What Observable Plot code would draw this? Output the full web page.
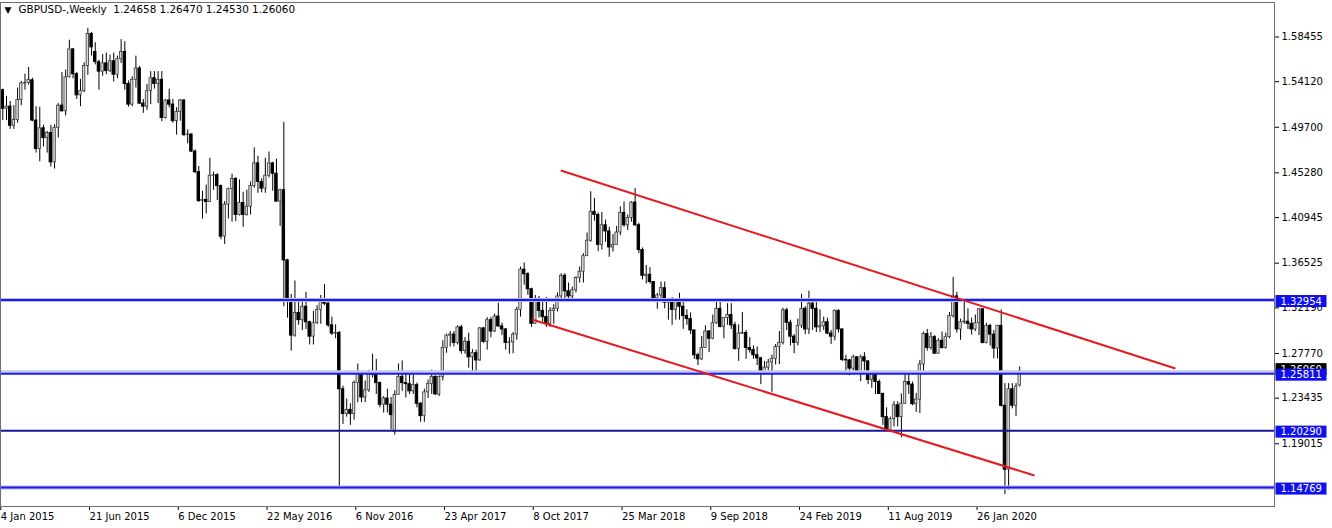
<!DOCTYPE html>
<html><head><meta charset="utf-8">
<script src="https://cdn.jsdelivr.net/npm/d3@7"></script>
<script src="https://cdn.jsdelivr.net/npm/@observablehq/plot@0.6"></script>
<style>html,body{margin:0;padding:0;background:#fff}svg{display:block}</style>
</head><body><div id="chart"></div>
<script>
// Weekly GBPUSD candles [open, high, low, close], one row per week starting 4 Jan 2015
const candles2015 = [
[1.5330,1.5340,1.5035,1.5150],[1.5150,1.5270,1.5035,1.5170],[1.5170,1.5220,1.4950,1.4985],[1.4985,1.5180,1.4950,1.5040],
[1.5040,1.5350,1.5010,1.5235],[1.5235,1.5415,1.5180,1.5395],[1.5395,1.5485,1.5330,1.5400],[1.5400,1.5550,1.5380,1.5430],
[1.5425,1.5445,1.5025,1.5035],[1.5035,1.5170,1.4720,1.4760],[1.4760,1.5165,1.4635,1.4960],[1.4960,1.4990,1.4780,1.4865],
[1.4865,1.4930,1.4720,1.4915],[1.4915,1.4990,1.4585,1.4630],[1.4630,1.4995,1.4565,1.4965],[1.4965,1.5200,1.4865,1.5180],
[1.5180,1.5500,1.5120,1.5125],[1.5125,1.5525,1.5080,1.5455],[1.5455,1.5815,1.5450,1.5725],[1.5725,1.5735,1.5440,1.5485],
[1.5485,1.5500,1.5240,1.5280],[1.5280,1.5435,1.5170,1.5320],[1.5320,1.5595,1.5305,1.5565],[1.5565,1.5930,1.5475,1.5875],
[1.5875,1.5890,1.5660,1.5745],[1.5700,1.5790,1.5575,1.5605],[1.5600,1.5620,1.5330,1.5510],[1.5510,1.5675,1.5465,1.5590],
[1.5590,1.5690,1.5480,1.5515],[1.5515,1.5670,1.5500,1.5610],[1.5610,1.5690,1.5410,1.5480],[1.5480,1.5660,1.5440,1.5630],
[1.5630,1.5820,1.5590,1.5700],[1.5700,1.5800,1.5330,1.5390],[1.5390,1.5420,1.5165,1.5190],[1.5190,1.5460,1.5170,1.5430],
[1.5430,1.5660,1.5350,1.5540],[1.5540,1.5560,1.5190,1.5200],[1.5200,1.5240,1.5105,1.5170],[1.5170,1.5385,1.5135,1.5320],
[1.5320,1.5510,1.5190,1.5445],[1.5445,1.5510,1.5340,1.5390],[1.5390,1.5510,1.5200,1.5430],[1.5430,1.5510,1.5025,1.5060],
[1.5060,1.5240,1.5050,1.5230],[1.5230,1.5340,1.5160,1.5190],[1.5190,1.5240,1.5010,1.5030],[1.5030,1.5160,1.4895,1.5120],
[1.5120,1.5240,1.5030,1.5230],[1.5230,1.5240,1.4880,1.4895],[1.4895,1.4945,1.4810,1.4900],[1.4900,1.4905,1.4725,1.4735]
];
const candles2016 = [
[1.4735,1.4750,1.4520,1.4535],[1.4535,1.4590,1.4240,1.4255],[1.4255,1.4350,1.4080,1.4265],[1.4265,1.4410,1.4130,1.4245],
[1.4245,1.4670,1.4240,1.4500],[1.4500,1.4535,1.4360,1.4505],[1.4505,1.4520,1.4260,1.4400],[1.4400,1.4410,1.3880,1.3910],
[1.3910,1.4250,1.3835,1.4220],[1.4220,1.4380,1.4080,1.4370],[1.4370,1.4515,1.4050,1.4470],[1.4470,1.4480,1.4055,1.4120],
[1.4120,1.4460,1.4110,1.4235],[1.4235,1.4340,1.4000,1.4120],[1.4120,1.4360,1.4110,1.4200],[1.4200,1.4440,1.4120,1.4400],
[1.4400,1.4770,1.4380,1.4620],[1.4620,1.4690,1.4330,1.4440],[1.4440,1.4470,1.4335,1.4375],[1.4375,1.4670,1.4330,1.4500],
[1.4500,1.4730,1.4480,1.4620],[1.4620,1.4630,1.4350,1.4520],[1.4520,1.4660,1.4240,1.4250],[1.4250,1.4370,1.4010,1.4360],
[1.4360,1.5018,1.3230,1.3680],[1.3680,1.3690,1.3120,1.3280],[1.3280,1.3350,1.2800,1.2950],[1.2950,1.3480,1.2935,1.3170],
[1.3170,1.3290,1.3050,1.3100],[1.3100,1.3300,1.3000,1.3230],[1.3230,1.3370,1.3010,1.3080],[1.3080,1.3090,1.2860,1.2940],
[1.2940,1.3185,1.2860,1.3070],[1.3070,1.3240,1.3060,1.3200],[1.3200,1.3340,1.3060,1.3300],[1.3300,1.3445,1.3240,1.3260],
[1.3260,1.3300,1.3030,1.3050],[1.3050,1.3130,1.2950,1.2970],[1.2970,1.3055,1.2920,1.2975],[1.2975,1.2990,1.1477,1.2430],
[1.2430,1.2460,1.2090,1.2190],[1.2190,1.2335,1.2160,1.2230],[1.2230,1.2290,1.2080,1.2190],[1.2190,1.2510,1.2130,1.2490],
[1.2490,1.2675,1.2300,1.2590],[1.2590,1.2600,1.2300,1.2350],[1.2350,1.2510,1.2300,1.2420],[1.2420,1.2615,1.2400,1.2590],
[1.2590,1.2770,1.2540,1.2570],[1.2570,1.2720,1.2380,1.2490],[1.2490,1.2500,1.2250,1.2280],[1.2280,1.2360,1.2200,1.2340]
];
const candles2017 = [
[1.2340,1.2430,1.2200,1.2280],[1.2280,1.2350,1.2035,1.2180],[1.2015,1.2415,1.1986,1.2375],[1.2375,1.2675,1.2370,1.2550],
[1.2550,1.2705,1.2410,1.2490],[1.2490,1.2580,1.2345,1.2480],[1.2480,1.2580,1.2380,1.2410],[1.2410,1.2570,1.2380,1.2470],
[1.2470,1.2490,1.2250,1.2290],[1.2290,1.2300,1.2110,1.2170],[1.2170,1.2430,1.2110,1.2400],[1.2400,1.2520,1.2340,1.2480],
[1.2480,1.2615,1.2380,1.2550],[1.2550,1.2560,1.2370,1.2380],[1.2380,1.2560,1.2360,1.2550],[1.2550,1.2900,1.2510,1.2830],
[1.2830,1.2965,1.2780,1.2950],[1.2950,1.2990,1.2840,1.2960],[1.2960,1.2990,1.2840,1.2880],[1.2880,1.3045,1.2860,1.3030],
[1.3030,1.3050,1.2770,1.2800],[1.2800,1.2930,1.2770,1.2890],[1.2890,1.2975,1.2635,1.2740],[1.2740,1.2815,1.2590,1.2780],
[1.2780,1.2810,1.2590,1.2710],[1.2710,1.3030,1.2700,1.3020],[1.3020,1.3030,1.2875,1.2890],[1.2890,1.3125,1.2810,1.3100],
[1.3100,1.3125,1.2930,1.2990],[1.2990,1.3160,1.2980,1.3135],[1.3135,1.3265,1.3030,1.3040],[1.3040,1.3070,1.2950,1.3010],
[1.3010,1.3020,1.2810,1.2880],[1.2880,1.2930,1.2770,1.2885],[1.2885,1.2980,1.2775,1.2960],[1.2960,1.3225,1.2905,1.3200],
[1.3200,1.3615,1.3130,1.3590],[1.3590,1.3655,1.3440,1.3545],[1.3545,1.3560,1.3340,1.3400],[1.3400,1.3410,1.3030,1.3065],
[1.3065,1.3340,1.3060,1.3280],[1.3280,1.3330,1.3120,1.3190],[1.3190,1.3285,1.3080,1.3130],[1.3130,1.3320,1.3030,1.3060],
[1.3060,1.3220,1.3030,1.3190],[1.3190,1.3250,1.3060,1.3210],[1.3210,1.3365,1.3180,1.3330],[1.3330,1.3550,1.3300,1.3530],
[1.3530,1.3550,1.3300,1.3380],[1.3380,1.3460,1.3310,1.3330],[1.3330,1.3420,1.3300,1.3390],[1.3390,1.3520,1.3365,1.3510]
];
const candles2018 = [
[1.3510,1.3615,1.3460,1.3570],[1.3570,1.3745,1.3460,1.3720],[1.3720,1.3945,1.3720,1.3870],[1.3870,1.4345,1.3855,1.4150],
[1.4150,1.4280,1.4060,1.4120],[1.4120,1.4140,1.3765,1.3830],[1.3830,1.4145,1.3780,1.4020],[1.4020,1.4070,1.3855,1.3960],
[1.3960,1.4000,1.3710,1.3805],[1.3805,1.3930,1.3760,1.3830],[1.3830,1.4010,1.3830,1.3950],[1.3950,1.4200,1.3920,1.4140],
[1.4140,1.4245,1.4000,1.4020],[1.4020,1.4120,1.3970,1.4090],[1.4090,1.4250,1.4050,1.4240],[1.4240,1.4377,1.4010,1.4020],
[1.4020,1.4040,1.3745,1.3780],[1.3780,1.3800,1.3490,1.3530],[1.3530,1.3630,1.3450,1.3540],[1.3540,1.3610,1.3450,1.3470],
[1.3470,1.3475,1.3300,1.3310],[1.3310,1.3360,1.3205,1.3340],[1.3340,1.3470,1.3300,1.3410],[1.3410,1.3470,1.3210,1.3270],
[1.3270,1.3310,1.3100,1.3275],[1.3275,1.3320,1.3050,1.3200],[1.3200,1.3290,1.3100,1.3280],[1.3280,1.3360,1.3100,1.3230],
[1.3230,1.3300,1.3010,1.3140],[1.3140,1.3200,1.3050,1.3110],[1.3110,1.3170,1.2960,1.3000],[1.3000,1.3005,1.2720,1.2760],
[1.2760,1.2780,1.2660,1.2720],[1.2720,1.2940,1.2710,1.2830],[1.2830,1.3045,1.2825,1.2990],[1.2990,1.3000,1.2785,1.2920],
[1.2920,1.3150,1.2910,1.3070],[1.3070,1.3300,1.3060,1.3210],[1.3210,1.3300,1.3025,1.3035],[1.3035,1.3125,1.2920,1.3120],
[1.3120,1.3260,1.3050,1.3150],[1.3150,1.3260,1.3010,1.3050],[1.3050,1.3080,1.2810,1.2820],[1.2820,1.3055,1.2700,1.2970],
[1.2970,1.3175,1.2960,1.2975],[1.2975,1.3000,1.2720,1.2830],[1.2830,1.2930,1.2780,1.2810],[1.2810,1.2850,1.2720,1.2760],
[1.2760,1.2840,1.2660,1.2730],[1.2730,1.2740,1.2475,1.2580],[1.2580,1.2700,1.2570,1.2640],[1.2640,1.2720,1.2610,1.2690]
];
const candles2019 = [
[1.2690,1.2760,1.2400,1.2725],[1.2725,1.2865,1.2665,1.2840],[1.2840,1.2990,1.2670,1.2880],[1.2880,1.3215,1.2860,1.3195],
[1.3195,1.3215,1.3000,1.3075],[1.3075,1.3100,1.2850,1.2940],[1.2940,1.2960,1.2775,1.2880],[1.2880,1.3110,1.2850,1.3045],
[1.3045,1.3350,1.3020,1.3210],[1.3210,1.3230,1.2960,1.3010],[1.3010,1.3380,1.2960,1.3260],[1.3260,1.3300,1.3000,1.3210],
[1.3210,1.3280,1.2980,1.3030],[1.3030,1.3200,1.2980,1.3040],[1.3040,1.3130,1.3000,1.3080],[1.3080,1.3120,1.2960,1.2970],
[1.2970,1.3000,1.2865,1.2940],[1.2940,1.3200,1.2900,1.3190],[1.3190,1.3200,1.2975,1.3010],[1.3010,1.3015,1.2700,1.2715],
[1.2715,1.2760,1.2605,1.2710],[1.2710,1.2720,1.2560,1.2630],[1.2630,1.2760,1.2610,1.2740],[1.2740,1.2745,1.2580,1.2590],
[1.2590,1.2760,1.2505,1.2740],[1.2740,1.2785,1.2610,1.2700],[1.2700,1.2705,1.2475,1.2520],[1.2520,1.2580,1.2440,1.2575],
[1.2575,1.2580,1.2380,1.2500],[1.2500,1.2520,1.2380,1.2385],[1.2385,1.2390,1.2080,1.2160],[1.2160,1.2250,1.2015,1.2030],
[1.2030,1.2160,1.2015,1.2140],[1.2140,1.2310,1.2065,1.2275],[1.2275,1.2310,1.2065,1.2160],[1.2160,1.2385,1.1960,1.2290],
[1.2290,1.2580,1.2285,1.2500],[1.2500,1.2580,1.2380,1.2475],[1.2475,1.2500,1.2270,1.2285],[1.2285,1.2390,1.2205,1.2330],
[1.2330,1.2710,1.2195,1.2670],[1.2670,1.2985,1.2590,1.2965],[1.2965,1.3010,1.2800,1.2830],[1.2830,1.2980,1.2810,1.2935],
[1.2935,1.2950,1.2770,1.2775],[1.2775,1.2920,1.2770,1.2900],[1.2900,1.2985,1.2820,1.2830],[1.2830,1.2975,1.2820,1.2935],
[1.2935,1.3175,1.2920,1.3140],[1.3140,1.3515,1.3120,1.3330],[1.3330,1.3370,1.2975,1.3010],[1.3010,1.3110,1.2905,1.3080]
];
const candles2020 = [
[1.3080,1.3285,1.3060,1.3085],[1.3085,1.3210,1.3010,1.3065],[1.3065,1.3120,1.2955,1.3010],[1.3010,1.3150,1.2990,1.3070],
[1.3070,1.3210,1.2950,1.3205],[1.3205,1.3210,1.2870,1.2880],[1.2880,1.3070,1.2870,1.3045],[1.3045,1.3060,1.2850,1.2960],
[1.2960,1.3000,1.2725,1.2825],[1.2825,1.3050,1.2725,1.3045],[1.3045,1.3200,1.2260,1.2270],[1.2270,1.2485,1.1410,1.1650],
[1.1650,1.2485,1.1450,1.2430],[1.2430,1.2485,1.2240,1.2270],[1.2270,1.2485,1.2165,1.2455],[1.24658,1.26470,1.24530,1.26060]
];

const yTicks = [1.58455, 1.54120, 1.49700, 1.45280, 1.40945, 1.36525, 1.32190, 1.27770, 1.23435, 1.19015];
const xTickWeeks = [0, 24, 48, 72, 96, 120, 144, 168, 192, 216, 240, 264];
const xTickLabels = ["4 Jan 2015","21 Jun 2015","6 Dec 2015","22 May 2016","6 Nov 2016","23 Apr 2017",
  "8 Oct 2017","25 Mar 2018","9 Sep 2018","24 Feb 2019","11 Aug 2019","26 Jan 2020"];
const levels = [1.32954, 1.25811, 1.20290, 1.14769];
const levelColors = ["#1c1cf0", "#1c1cf0", "#16169a", "#1c1cf0"];
const currentPrice = 1.26060;
const trendWeeks1 = [150.9, 317.1], trendPrices1 = [1.45511, 1.26314];
const trendWeeks2 = [143.1, 279.0], trendPrices2 = [1.31065, 1.15940];
const symbolName = "GBPUSD-,Weekly";
const headerValues = ["1.24658", "1.26470", "1.24530", "1.26060"];

const rows = [...candles2015, ...candles2016, ...candles2017, ...candles2018, ...candles2019, ...candles2020]
  .map(([o, h, l, c], i) => ({w: i, o, h, l, c}));
const bulls = rows.filter(d => d.c >= d.o);
const bears = rows.filter(d => d.c < d.o);
const trends = [
  {x1: trendWeeks1[0], x2: trendWeeks1[1], y1: trendPrices1[0], y2: trendPrices1[1]},
  {x1: trendWeeks2[0], x2: trendWeeks2[1], y1: trendPrices2[0], y2: trendPrices2[1]}
];
const half = 0.33;

const chart = Plot.plot({
  width: 1332, height: 528,
  marginLeft: 0, marginRight: 58, marginTop: 2, marginBottom: 22,
  style: {fontFamily: "DejaVu Sans", fontSize: "10px", color: "#000", background: "#fff", overflow: "visible"},
  x: {type: "linear", domain: [-0.62, 343.9]},
  y: {domain: [1.12934, 1.61800]},
  marks: [
    Plot.ruleX(rows, {x: "w", y1: "l", y2: "h", stroke: "#000", strokeWidth: 1}),
    Plot.rect(bears, {x1: d => d.w - half, x2: d => d.w + half, y1: "o", y2: "c", fill: "#000", stroke: "#000", strokeWidth: 1}),
    Plot.rect(bulls, {x1: d => d.w - half, x2: d => d.w + half, y1: "o", y2: "c", fill: "#d8d8d8", stroke: "#3a3a3a", strokeWidth: 0.8}),
    // level halos
    Plot.ruleY([levels[0], levels[3]], {stroke: "#b9b9f3", strokeWidth: 4}),
    Plot.ruleY([levels[1]], {stroke: "#c8c8ef", strokeWidth: 3, dy: -2}),
    Plot.ruleY(levels, {y: d => d, stroke: (d, i) => levelColors[i], strokeWidth: 2}),
    Plot.link(trends, {x1: "x1", y1: "y1", x2: "x2", y2: "y2", stroke: "#e51a1f", strokeWidth: 2}),
    Plot.axisY(yTicks, {anchor: "right", tickSize: 4, tickPadding: 3, tickFormat: d => d.toFixed(5), fontSize: 10, label: null}),
    Plot.axisX(xTickWeeks, {anchor: "bottom", tickSize: 4, tickPadding: 2, tickFormat: d => xTickLabels[xTickWeeks.indexOf(d)],
      textAnchor: "start", dx: -2, fontSize: 10, label: null}),
    Plot.text(["\u25BC"], {frameAnchor: "top-left", dx: 4, dy: 4, lineAnchor: "top", textAnchor: "start", fontSize: 9}),
    Plot.text([symbolName + "\u00a0\u00a0" + headerValues.join("\u00a0")], {frameAnchor: "top-left", dx: 18, dy: 3, lineAnchor: "top", textAnchor: "start", fontSize: 10.4}),
    Plot.frame({stroke: "#6e6e6e", strokeWidth: 1})
  ]
});

// price label boxes on the right axis, positioned with the chart's own y scale
const yScale = chart.scale("y");
const svg = d3.select(chart);
const g = svg.append("g").attr("font-family", "DejaVu Sans").attr("font-size", 10).attr("text-anchor", "start");
const boxX = 1275.5, boxW = 51, boxH = 12;
function box(price, yOff, fill, label) {
  const yc = yScale.apply(price) + yOff;
  g.append("rect").attr("x", boxX).attr("y", yc - boxH / 2).attr("width", boxW).attr("height", boxH).attr("fill", fill);
  g.append("text").attr("x", boxX + 5).attr("y", yc).attr("dy", "0.36em").attr("text-anchor", "start").attr("fill", "#fff").text(label);
}
box(currentPrice, -1.5, "#000", currentPrice.toFixed(5));
levels.forEach(v => box(v, 1.5, "#1010ee", v.toFixed(5)));

document.getElementById("chart").appendChild(chart);
</script>
</body></html>
